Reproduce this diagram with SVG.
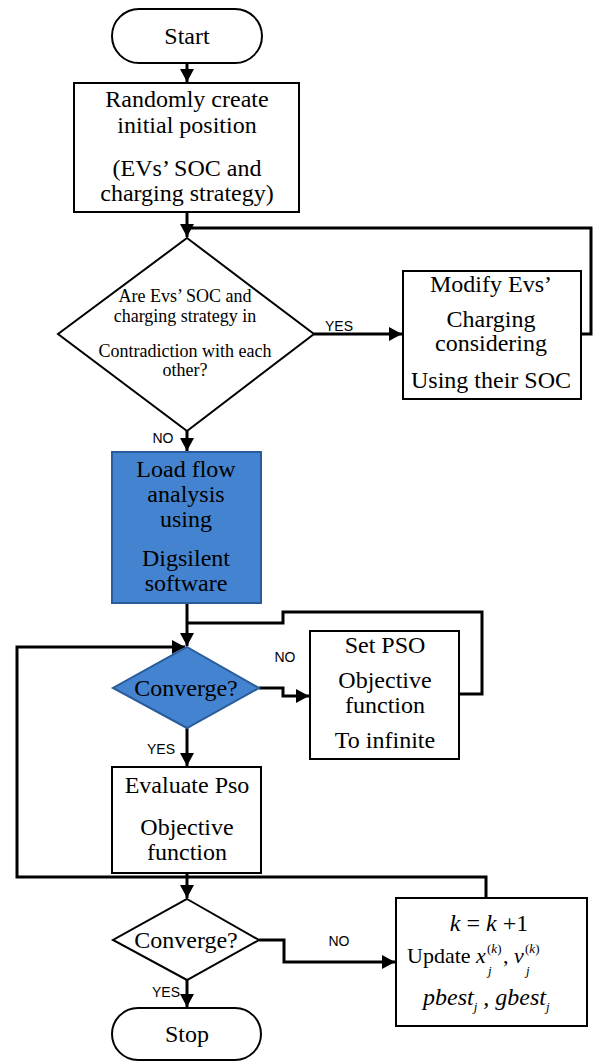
<svg xmlns="http://www.w3.org/2000/svg" width="603" height="1063" viewBox="0 0 603 1063">
<defs>
<style>
.box{fill:#fff;stroke:#000;stroke-width:2}
.blue{fill:#4483cf;stroke:#2a5c9c;stroke-width:2}
.t{font-family:"Liberation Serif","Times New Roman","DejaVu Serif",serif;font-size:24px;fill:#000;text-anchor:middle}
.m{font-family:"Liberation Serif","Times New Roman","DejaVu Serif",serif;font-size:22px;fill:#000}
.s{font-family:"Liberation Serif","Times New Roman","DejaVu Serif",serif;font-size:18px;fill:#000;text-anchor:middle}
.lab{font-family:"Liberation Sans",Arial,sans-serif;font-size:14px;fill:#000;text-anchor:middle}
.c{fill:none;stroke:#000;stroke-width:3}
.i{font-style:italic}
.sm{font-size:13px}
</style>
<marker id="ah" markerUnits="userSpaceOnUse" markerWidth="14" markerHeight="14" refX="13" refY="7" orient="auto">
<path d="M0,0 L13,7 L0,14 z" fill="#000"/>
</marker>
</defs>
<rect width="603" height="1063" fill="#fff"/>

<g id="connectors">
<path class="c" d="M187,63 V82" marker-end="url(#ah)"/>
<path class="c" d="M187,212 V237" marker-end="url(#ah)"/>
<path class="c" d="M314,334 H402" marker-end="url(#ah)"/>
<path class="c" d="M581,334 H591 V228 H187"/>
<path class="c" d="M187,431 V451" marker-end="url(#ah)"/>
<path class="c" d="M187,603 V646" marker-end="url(#ah)"/>
<path class="c" d="M459,694 H482 V612 H283 V623 H187"/>
<path class="c" d="M259,688 H283 V696 H309" marker-end="url(#ah)"/>
<path class="c" d="M187,728 V766" marker-end="url(#ah)"/>
<path class="c" d="M187,873 V898" marker-end="url(#ah)"/>
<path class="c" d="M486,898 V877 H17 V647 H185" marker-end="url(#ah)"/>
<path class="c" d="M259,940 H284 V962 H395" marker-end="url(#ah)"/>
<path class="c" d="M187,980 V1007" marker-end="url(#ah)"/>
<text class="lab" x="339" y="331">YES</text>
<text class="lab" x="163" y="443">NO</text>
<text class="lab" x="285" y="662">NO</text>
<text class="lab" x="161" y="754">YES</text>
<text class="lab" x="339" y="946">NO</text>
<text class="lab" x="166" y="997">YES</text>
</g>

<g id="start">
<rect class="box" x="112" y="9" width="150" height="54" rx="27"/>
<text class="t" x="187" y="44">Start</text>
</g>

<g id="init">
<rect class="box" x="74" y="83" width="225" height="129"/>
<text class="t" x="187" y="107">Randomly create</text>
<text class="t" x="187" y="133">initial position</text>
<text class="t" x="187" y="176">(EVs’ SOC and</text>
<text class="t" x="187" y="201">charging strategy)</text>
</g>

<g id="check">
<polygon class="box" points="187,238 314,334 187,431 58,334"/>
<text class="s" x="185" y="302">Are Evs’ SOC and</text>
<text class="s" x="185" y="322">charging strategy in</text>
<text class="s" x="185" y="357">Contradiction with each</text>
<text class="s" x="185" y="376">other?</text>
</g>

<g id="modify">
<rect class="box" x="403" y="271" width="178" height="128"/>
<text class="t" x="491" y="292">Modify Evs’</text>
<text class="t" x="491" y="327">Charging</text>
<text class="t" x="491" y="351">considering</text>
<text class="t" x="491" y="388">Using their SOC</text>
</g>

<g id="loadflow">
<rect class="blue" x="112" y="452" width="149" height="151"/>
<text class="t" x="186" y="477">Load flow</text>
<text class="t" x="186" y="502">analysis</text>
<text class="t" x="186" y="527">using</text>
<text class="t" x="186" y="566">Digsilent</text>
<text class="t" x="186" y="591">software</text>
</g>

<g id="converge1">
<polygon class="blue" points="187,647 259,688 187,728 113,688"/>
<text class="t" x="186" y="696">Converge?</text>
</g>

<g id="setpso">
<rect class="box" x="310" y="631" width="149" height="128"/>
<text class="t" x="385" y="653">Set PSO</text>
<text class="t" x="385" y="688">Objective</text>
<text class="t" x="385" y="713">function</text>
<text class="t" x="385" y="748">To infinite</text>
</g>

<g id="evaluate">
<rect class="box" x="112" y="767" width="149" height="106"/>
<text class="t" x="187" y="793">Evaluate Pso</text>
<text class="t" x="187" y="835">Objective</text>
<text class="t" x="187" y="860">function</text>
</g>

<g id="converge2">
<polygon class="box" points="187,899 259,940 187,980 113,940"/>
<text class="t" x="186" y="948">Converge?</text>
</g>

<g id="update">
<rect class="box" x="396" y="898" width="191" height="128"/>
<text class="t" x="489" y="931"><tspan class="i">k</tspan> = <tspan class="i">k</tspan> +1</text>
<text class="m" x="407" y="963">Update</text>
<text class="m i" x="476" y="963">x</text>
<text class="m sm" x="487" y="953">(<tspan class="i">k</tspan>)</text>
<text class="m sm i" x="488" y="975">j</text>
<text class="m" x="503" y="963">,</text>
<text class="m i" x="514" y="963">v</text>
<text class="m sm" x="525" y="953">(<tspan class="i">k</tspan>)</text>
<text class="m sm i" x="526" y="975">j</text>
<text class="t i" style="text-anchor:start" x="423" y="1005">pbest<tspan class="sm" dy="6">j</tspan><tspan dy="-6"> , gbest</tspan><tspan class="sm" dy="6">j</tspan></text>
</g>

<g id="stop">
<rect class="box" x="112" y="1008" width="149" height="52" rx="26"/>
<text class="t" x="187" y="1042">Stop</text>
</g>
</svg>
